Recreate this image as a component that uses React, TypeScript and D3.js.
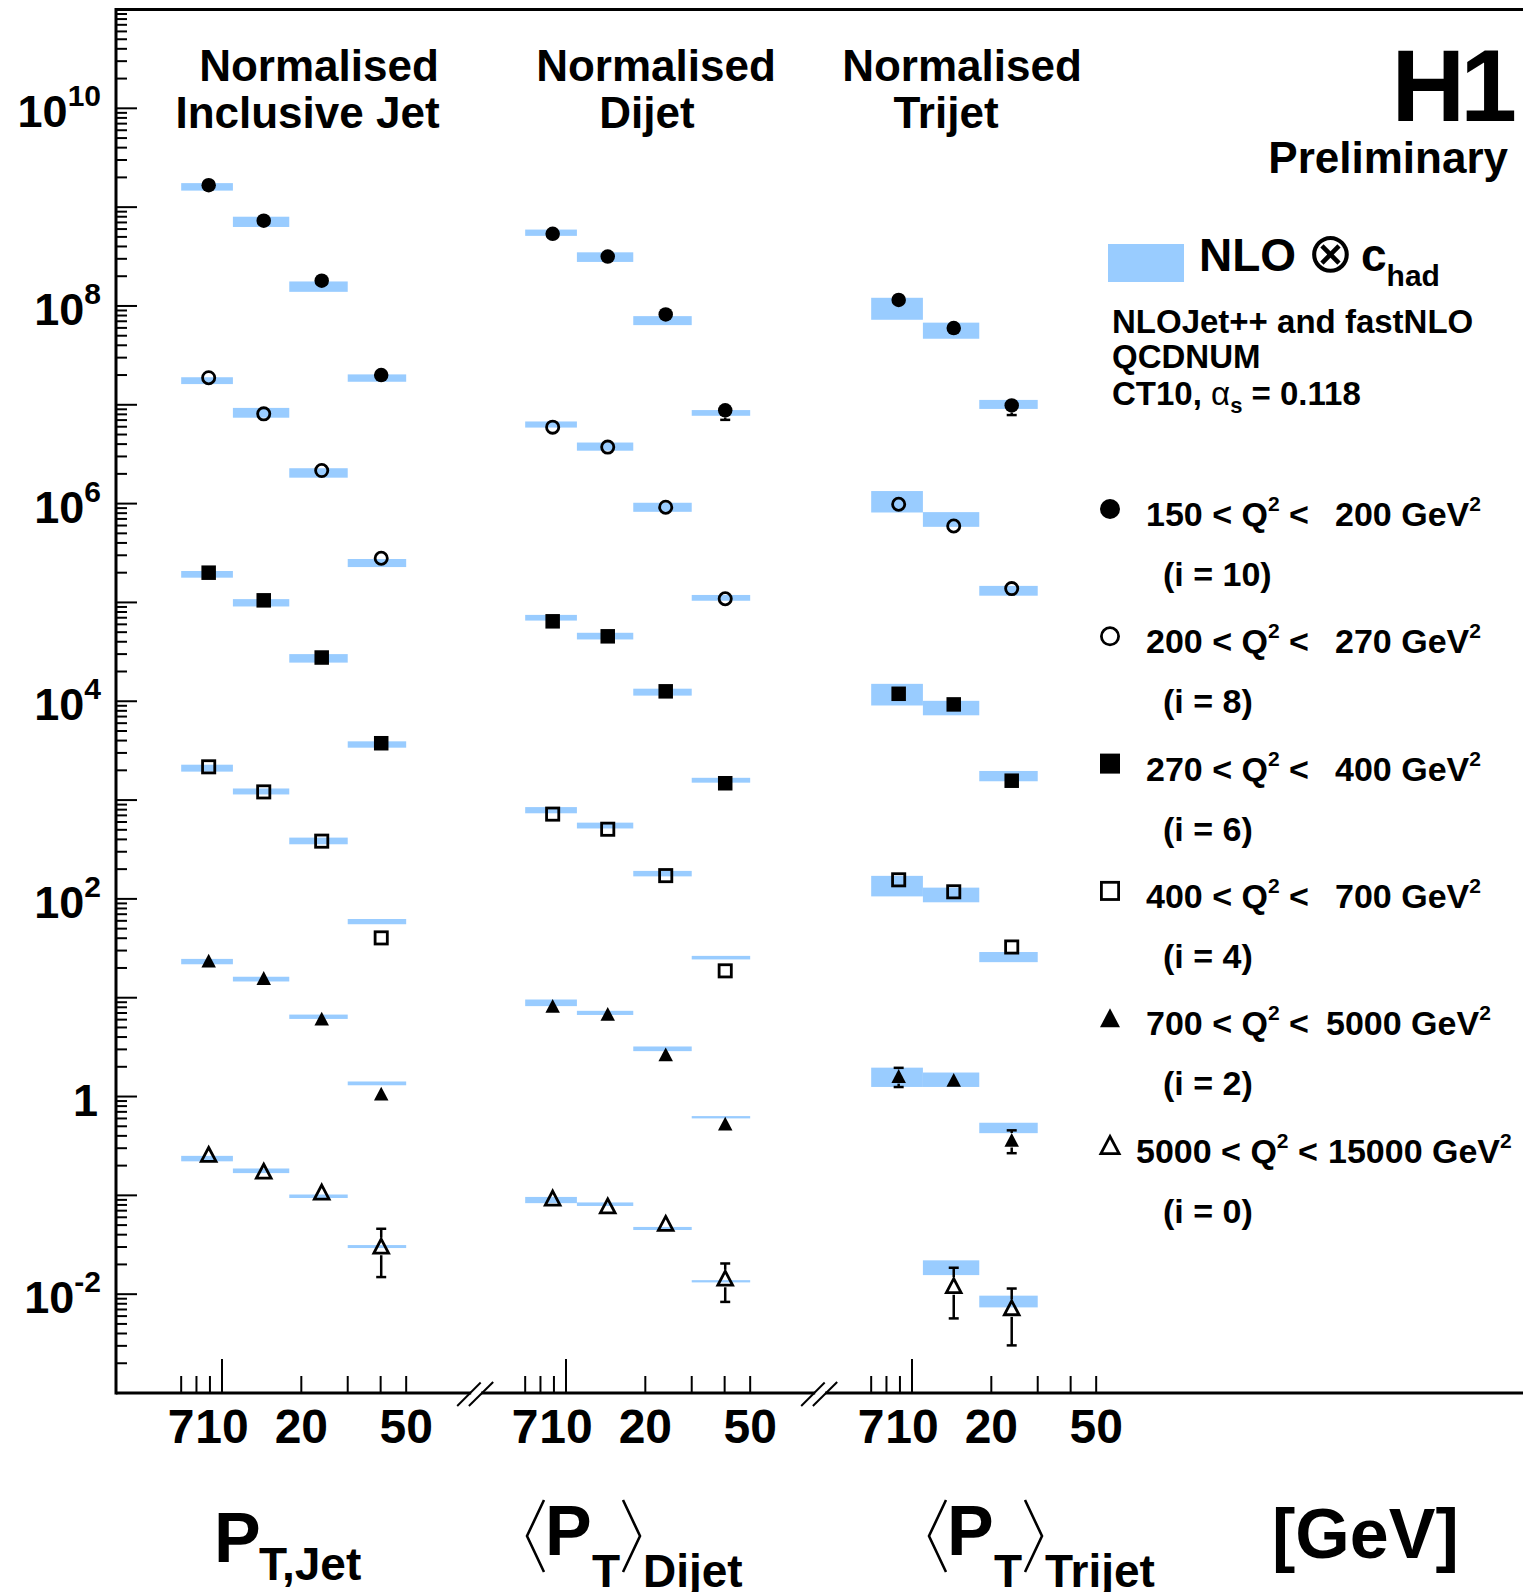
import React from 'react';
import * as d3 from 'd3';

// ---- data ----
const PT_EDGES = [7, 11, 18, 30, 50];
const PT_MEAN = [8.9, 14.4, 23.9, 40.2];
const X_MINOR = [7, 8, 9, 20, 30, 40, 50];
const X_MAJOR = [10];
const X_LABELS = [7, 10, 20, 50];
const Y_LABEL_EXP = [-2, 0, 2, 4, 6, 8, 10];

const PANEL_TITLES = ['Inclusive Jet', 'Dijet', 'Trijet'];
const Q2_LOW = ['150', '200', '270', '400', '700', '5000'];
const Q2_HIGH = ['200', '270', '400', '700', '5000', '15000'];
const SCALE_I = [10, 8, 6, 4, 2, 0];
const MARKERS = ['fullCircle', 'openCircle', 'fullSquare', 'openSquare', 'fullTriangle', 'openTriangle'];

// inclusive jet
const jetVal = [
  [1.67e9, 7.3e8, 1.8e8, 2.0e7],
  [1.88e7, 8.1e6, 2.16e6, 2.8e5],
  [2.0e5, 1.05e5, 2.77e4, 3760],
  [2170, 1210, 384, 40.3],
  [23.5, 15.7, 6.1, 1.06],
  [0.257, 0.174, 0.107, 0.0304],
];
const jetErr = [
  [0.04, 0.04, 0.05, 0.1],
  [0.04, 0.04, 0.05, 0.08],
  [0.04, 0.04, 0.05, 0.08],
  [0.04, 0.04, 0.06, 0.1],
  [0.05, 0.06, 0.08, 0.12],
  [0.08, 0.1, 0.2, 0.51],
];
const jetNloLo = [
  [1.47e9, 6.3e8, 1.39e8, 1.71e7],
  [1.62e7, 7.4e6, 1.83e6, 2.28e5],
  [1.78e5, 9.1e4, 2.46e4, 3390],
  [1940, 1140, 357, 55.4],
  [21.8, 14.6, 6.1, 1.3],
  [0.221, 0.168, 0.094, 0.0293],
];
const jetNloHi = [
  [1.75e9, 8.0e8, 1.77e8, 2.03e7],
  [1.9e7, 9.3e6, 2.28e6, 2.75e5],
  [2.08e5, 1.08e5, 3.0e4, 3930],
  [2280, 1310, 417, 62.6],
  [24.7, 16.3, 6.75, 1.42],
  [0.251, 0.187, 0.102, 0.0314],
];

// dijet
const dijetVal = [
  [5.37e8, 3.16e8, 8.2e7, 8.8e6],
  [5.94e6, 3.73e6, 9.2e5, 1.09e5],
  [6.44e4, 4.54e4, 1.26e4, 1480],
  [721, 507, 172, 18.7],
  [8.2, 6.8, 2.65, 0.528],
  [0.093, 0.0776, 0.0516, 0.0144],
];
const dijetErr = [
  [0.03, 0.04, 0.05, 0.2],
  [0.03, 0.04, 0.05, 0.17],
  [0.03, 0.04, 0.05, 0.12],
  [0.04, 0.04, 0.06, 0.12],
  [0.05, 0.05, 0.08, 0.12],
  [0.08, 0.1, 0.15, 0.42],
];
const dijetNloLo = [
  [5.12e8, 2.79e8, 6.4e7, 7.74e6],
  [5.88e6, 3.43e6, 8.26e5, 1.04e5],
  [6.55e4, 4.22e4, 1.14e4, 1500],
  [735, 516, 169, 24.4],
  [8.22, 6.69, 2.88, 0.601],
  [0.0834, 0.0781, 0.0446, 0.01316],
];
const dijetNloHi = [
  [5.93e8, 3.49e8, 7.89e7, 8.84e6],
  [6.78e6, 4.15e6, 1.02e6, 1.19e5],
  [7.48e4, 4.93e4, 1.34e4, 1680],
  [849, 591, 192, 26.5],
  [9.59, 7.37, 3.21, 0.634],
  [0.0964, 0.0848, 0.0479, 0.01386],
];

// trijet (first bin of the highest Q2 range is empty)
const trijetVal = [
  [1.15e8, 5.98e7, 9.84e6],
  [9.84e5, 5.94e5, 1.38e5],
  [1.19e4, 9290, 1570],
  [156, 118, 32.6],
  [1.6, 1.46, 0.361],
  [null, 0.0121, 0.00722],
];
const trijetErr = [
  [0.05, 0.05, 0.2],
  [0.05, 0.06, 0.1],
  [0.05, 0.06, 0.15],
  [0.06, 0.08, 0.12],
  [0.22, 0.1, 0.26],
  [null, 0.53, 0.58],
];
const trijetNloLo = [
  [7.25e7, 4.66e7, 9.08e6],
  [8.13e5, 5.82e5, 1.17e5],
  [9060, 7210, 1550],
  [106, 92.4, 22.9],
  [1.25, 1.25, 0.426],
  [null, 0.0156, 0.00735],
];
const trijetNloHi = [
  [1.21e8, 6.78e7, 1.12e7],
  [1.34e6, 8.2e5, 1.47e5],
  [1.5e4, 1.01e4, 1970],
  [171, 130, 29],
  [1.96, 1.75, 0.543],
  [null, 0.022, 0.00966],
];

const PANELS = [
  { val: jetVal, err: jetErr, lo: jetNloLo, hi: jetNloHi },
  { val: dijetVal, err: dijetErr, lo: dijetNloLo, hi: dijetNloHi },
  { val: trijetVal, err: trijetErr, lo: trijetNloLo, hi: trijetNloHi },
];

// ---- layout ----
const W = 1523;
const H = 1592;
const AXIS_X = 116;
const AXIS_Y = 1393;
const TOP_Y = 9.5;
const DECADE_PX = 263.5;
const SEG_X10 = [222, 566, 912];
const BAND = '#99ccff';
const FONT = '"Liberation Sans", Arial, Helvetica, sans-serif';

const yScale = d3.scaleLog().domain([1e-3, 1e11]).range([AXIS_Y, TOP_Y]);
const xScales = SEG_X10.map((x0) => d3.scaleLog().domain([10, 100]).range([x0, x0 + DECADE_PX]));

const MSIZE = {
  fullCircle: 14.5,
  openCircle: 15,
  fullSquare: 14.5,
  openSquare: 15,
  fullTriangle: 14.5,
  openTriangle: 17.5,
};

function Marker({ kind, x, y, size }) {
  const h = size / 2;
  const sw = 2.8;
  if (kind === 'fullCircle') return <circle cx={x} cy={y} r={h} fill="#000" />;
  if (kind === 'openCircle')
    return <circle cx={x} cy={y} r={h - sw / 2} fill="none" stroke="#000" strokeWidth={sw} />;
  if (kind === 'fullSquare') return <rect x={x - h} y={y - h} width={size} height={size} fill="#000" />;
  if (kind === 'openSquare')
    return (
      <rect x={x - h + sw / 2} y={y - h + sw / 2} width={size - sw} height={size - sw}
        fill="none" stroke="#000" strokeWidth={sw} />
    );
  if (kind === 'fullTriangle') {
    const p = `M${x},${y - h} L${x + h},${y + h * 0.9} L${x - h},${y + h * 0.9} Z`;
    return <path d={p} fill="#000" />;
  }
  const hh = h - sw / 2;
  const p = `M${x},${y - hh} L${x + hh},${y + hh * 0.9} L${x - hh},${y + hh * 0.9} Z`;
  return <path d={p} fill="none" stroke="#000" strokeWidth={sw} strokeLinejoin="miter" />;
}

function DataPoint({ kind, x, v, e }) {
  const y = yScale(v);
  const half = MSIZE[kind] / 2;
  const yUp = yScale(v * (1 + e));
  const yDn = yScale(Math.max(v * (1 - e), 1e-4));
  const parts = [];
  if (y - yUp > half + 1) {
    parts.push(<line key="u" x1={x} x2={x} y1={y - half} y2={yUp} stroke="#000" strokeWidth={2.5} />);
    parts.push(<line key="uc" x1={x - 5} x2={x + 5} y1={yUp} y2={yUp} stroke="#000" strokeWidth={2.5} />);
  }
  if (yDn - y > half + 1) {
    parts.push(<line key="d" x1={x} x2={x} y1={y + half} y2={yDn} stroke="#000" strokeWidth={2.5} />);
    parts.push(<line key="dc" x1={x - 5} x2={x + 5} y1={yDn} y2={yDn} stroke="#000" strokeWidth={2.5} />);
  }
  return (
    <g>
      {parts}
      <Marker kind={kind} x={x} y={y} size={MSIZE[kind]} />
    </g>
  );
}

function YAxis() {
  const ticks = [];
  for (let d = -3; d <= 11; d++) {
    for (let k = 1; k <= 9; k++) {
      const v = k * Math.pow(10, d);
      if (v > 1.0001e11) break;
      const y = yScale(v);
      ticks.push(
        <line key={`${d}-${k}`} x1={AXIS_X} x2={AXIS_X + (k === 1 ? 21 : 11)} y1={y} y2={y}
          stroke="#000" strokeWidth={2} />
      );
    }
  }
  return (
    <g>
      {ticks}
      {Y_LABEL_EXP.map((e) => {
        const y = yScale(Math.pow(10, e)) + 19;
        return e === 0 ? (
          <text key={e} x={98} y={y} textAnchor="end" fontSize={45} fontWeight="bold">1</text>
        ) : (
          <text key={e} x={101} y={y} textAnchor="end" fontSize={45} fontWeight="bold">
            10<tspan dy={-21} fontSize={30}>{String(e)}</tspan>
          </text>
        );
      })}
    </g>
  );
}

function XAxisSegment({ xs }) {
  return (
    <g>
      {X_MINOR.map((t) => (
        <line key={`m${t}`} x1={xs(t)} x2={xs(t)} y1={AXIS_Y} y2={AXIS_Y - 17} stroke="#000" strokeWidth={2} />
      ))}
      {X_MAJOR.map((t) => (
        <line key={`M${t}`} x1={xs(t)} x2={xs(t)} y1={AXIS_Y} y2={AXIS_Y - 34} stroke="#000" strokeWidth={2} />
      ))}
      {X_LABELS.map((t) => (
        <text key={`l${t}`} x={xs(t)} y={1443} textAnchor="middle" fontSize={48} fontWeight="bold">{t}</text>
      ))}
    </g>
  );
}

function AxisBreak({ bx }) {
  return (
    <g>
      <rect x={bx - 4} y={AXIS_Y - 3} width={10} height={6} fill="#fff" />
      <line x1={bx - 18} y1={1406} x2={bx + 5.5} y2={1382.5} stroke="#000" strokeWidth={2} />
      <line x1={bx - 6.3} y1={1406} x2={bx + 18} y2={1382} stroke="#000" strokeWidth={2} />
    </g>
  );
}

function AngleBracket({ x, open }) {
  const top = 1500;
  const bot = 1572;
  const mid = (top + bot) / 2;
  const d = open
    ? `M${x + 17},${top} L${x},${mid} L${x + 17},${bot}`
    : `M${x},${top} L${x + 17},${mid} L${x},${bot}`;
  return <path d={d} fill="none" stroke="#000" strokeWidth={2.6} />;
}

const TITLE_POS = [
  { x1: 319, x2: 307.5 },
  { x1: 656, x2: 647 },
  { x1: 962, x2: 946 },
];

export default function App() {
  const breaks = [0, 1].map((i) => xScales[i](50) + 69);
  return (
    <svg width={W} height={H} viewBox={`0 0 ${W} ${H}`}
      style={{ position: 'absolute', left: 0, top: 0, background: '#fff' }}
      fontFamily={FONT}>
      <rect x={0} y={0} width={W} height={H} fill="#fff" />

      {/* NLO bands */}
      {PANELS.map((p, pi) =>
        p.lo.map((row, r) =>
          row.map((lo, b) => {
            if (lo == null) return null;
            const xs = xScales[pi];
            const x0 = xs(PT_EDGES[b]);
            const x1 = xs(PT_EDGES[b + 1]);
            const yTop = yScale(p.hi[r][b]);
            const yBot = yScale(lo);
            const h = Math.max(2.2, yBot - yTop);
            return <rect key={`b${pi}-${r}-${b}`} x={x0} y={yTop} width={x1 - x0} height={h} fill={BAND} />;
          })
        )
      )}

      {/* data points */}
      {PANELS.map((p, pi) =>
        p.val.map((row, r) =>
          row.map((v, b) => {
            if (v == null) return null;
            return (
              <DataPoint key={`p${pi}-${r}-${b}`} kind={MARKERS[r]} x={xScales[pi](PT_MEAN[b])} v={v} e={p.err[r][b]} />
            );
          })
        )
      )}

      {/* frame */}
      <line x1={AXIS_X} x2={W} y1={TOP_Y} y2={TOP_Y} stroke="#000" strokeWidth={3} />
      <line x1={AXIS_X} x2={AXIS_X} y1={TOP_Y - 1.5} y2={AXIS_Y + 1.5} stroke="#000" strokeWidth={3} />
      <line x1={AXIS_X} x2={W} y1={AXIS_Y} y2={AXIS_Y} stroke="#000" strokeWidth={3} />
      <YAxis />
      {xScales.map((xs, i) => (
        <XAxisSegment key={i} xs={xs} />
      ))}
      {breaks.map((bx, i) => (
        <AxisBreak key={i} bx={bx} />
      ))}

      {/* panel titles */}
      {PANEL_TITLES.map((t, i) => (
        <g key={t} fontSize={44} fontWeight="bold" textAnchor="middle">
          <text x={TITLE_POS[i].x1} y={81}>Normalised</text>
          <text x={TITLE_POS[i].x2} y={128}>{t}</text>
        </g>
      ))}

      {/* H1 Preliminary */}
      <text x={1512} y={121} textAnchor="end" fontSize={102} fontWeight="bold" letterSpacing={-5}>H1</text>
      <text x={1508} y={173} textAnchor="end" fontSize={44} fontWeight="bold">Preliminary</text>

      {/* theory legend */}
      <rect x={1108} y={244} width={76} height={38} fill={BAND} />
      <text x={1199} y={271} fontSize={46} fontWeight="bold">NLO</text>
      <text x={1330.5} y={272} textAnchor="middle" fontSize={56} fontFamily='"DejaVu Sans", sans-serif'>⊗</text>
      <text x={1361} y={271} fontSize={46} fontWeight="bold">
        c<tspan dy={15} fontSize={30}>had</tspan>
      </text>
      <g fontSize={33} fontWeight="bold">
        <text x={1112} y={333}>NLOJet++ and fastNLO</text>
        <text x={1112} y={368}>QCDNUM</text>
        <text x={1112} y={405}>
          CT10, <tspan fontWeight="normal">α</tspan>
          <tspan dy={8} fontSize={22}>s</tspan>
          <tspan dy={-8}> = 0.118</tspan>
        </text>
      </g>

      {/* Q2 legend */}
      {Q2_LOW.map((lo, r) => {
        const base = 526 + r * 127.3;
        const lx = lo.length > 3 ? 1136 : 1146;
        const rx = Q2_HIGH[r].length === 3 ? 1335 : Q2_HIGH[r].length === 4 ? 1326 : 1328;
        return (
          <g key={lo} fontSize={34} fontWeight="bold">
            <Marker kind={MARKERS[r]} x={1110} y={base - 17} size={MARKERS[r] === 'openTriangle' ? 21 : 20} />
            <text x={lx} y={base}>
              {lo} &lt; Q<tspan dy={-15} fontSize={21}>2</tspan>
              <tspan dy={15}> &lt;</tspan>
            </text>
            <text x={rx} y={base}>
              {Q2_HIGH[r]} GeV<tspan dy={-15} fontSize={21}>2</tspan>
            </text>
            <text x={1163} y={base + 60}>(i = {SCALE_I[r]})</text>
          </g>
        );
      })}

      {/* x-axis titles */}
      <g fontWeight="bold">
        <text x={214} y={1562} fontSize={70}>P</text>
        <text x={259} y={1580} fontSize={46}>T,Jet</text>

        <AngleBracket x={527} open />
        <text x={545} y={1555} fontSize={70}>P</text>
        <text x={592} y={1587} fontSize={46}>T</text>
        <AngleBracket x={623} open={false} />
        <text x={643} y={1587} fontSize={46}>Dijet</text>

        <AngleBracket x={929} open />
        <text x={947} y={1555} fontSize={70}>P</text>
        <text x={994} y={1587} fontSize={46}>T</text>
        <AngleBracket x={1025} open={false} />
        <text x={1045} y={1587} fontSize={46}>Trijet</text>

        <text x={1272} y={1558} fontSize={70}>[GeV]</text>
      </g>
    </svg>
  );
}
